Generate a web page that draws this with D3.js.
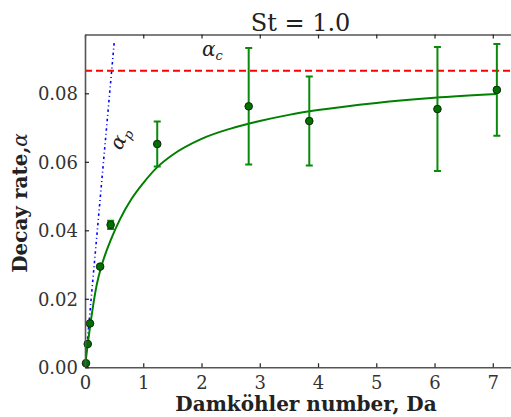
<!DOCTYPE html>
<html>
<head>
<meta charset="utf-8">
<script src="https://cdn.jsdelivr.net/npm/d3@7/dist/d3.min.js"></script>
<style>
  html, body { margin: 0; padding: 0; background: #fff; overflow: hidden; }
  svg { display: block; }
  text { font-family: "DejaVu Serif", "Liberation Serif", serif; }
</style>
</head>
<body>
<div id="chart"></div>
<script>
// Measured decay rates with their error bars
const daValues    = [0.017, 0.047, 0.086, 0.26, 0.44, 1.24, 2.81, 3.85, 6.05, 7.07];
const alphaValues = [0.0012, 0.0068, 0.0128, 0.0294, 0.0416, 0.0652, 0.0762, 0.0719, 0.0754, 0.0810];
const alphaErrors = [0, 0, 0, 0.0003, 0.0012, 0.0066, 0.0170, 0.0130, 0.0181, 0.0134];

// Fitted curve through the measurements
const fitDa    = [0, 0.02, 0.05, 0.1, 0.2, 0.3, 0.45, 0.6, 0.8, 1.0, 1.25, 1.5, 2.0, 2.5, 3.0, 3.5, 4.0, 5.0, 6.0, 7.07];
const fitAlpha = [0, 0.0030, 0.0072, 0.0135, 0.0240, 0.0305, 0.0375, 0.0432, 0.0492, 0.0538, 0.0586, 0.0620, 0.0667, 0.0697, 0.0719, 0.0737, 0.0751, 0.0772, 0.0787, 0.0798];

// Limiting rates: constant alpha_c and the linear alpha_p
const alphaC = 0.0866;
const pDa    = [0, 0.505];
const pAlpha = [0, 0.0955];

const xTicks = [0, 1, 2, 3, 4, 5, 6, 7];
const yTicks = [0.00, 0.02, 0.04, 0.06, 0.08];

const W = 511, H = 417;
const m = { left: 85, top: 34.5, right: 519, bottom: 367.3 };
const serif = '"DejaVu Serif", "Liberation Serif", serif';

const svg = d3.select("#chart").append("svg")
  .attr("width", W).attr("height", H);

const x = d3.scaleLinear().domain([0, 7.45]).range([m.left, m.right]);
const y = d3.scaleLinear().domain([0, 0.09717]).range([m.bottom, m.top]);

const axisColor = "#555";
const labelColor = "#222";

// Clip for the plotting area
svg.append("clipPath").attr("id", "plotclip")
  .append("rect").attr("x", m.left).attr("y", m.top)
  .attr("width", m.right - m.left).attr("height", m.bottom - m.top);

const plot = svg.append("g").attr("clip-path", "url(#plotclip)");

// alpha_c horizontal reference
plot.append("line")
  .attr("x1", x(0)).attr("x2", x(7.45))
  .attr("y1", y(alphaC)).attr("y2", y(alphaC))
  .attr("stroke", "#ff0000").attr("stroke-width", 2)
  .attr("stroke-dasharray", "7,4");

// alpha_p linear growth
plot.append("path")
  .datum(pDa.map((d, i) => [d, pAlpha[i]]))
  .attr("fill", "none")
  .attr("stroke", "#0000ff").attr("stroke-width", 1.6)
  .attr("stroke-dasharray", "2.5,3,1,3")
  .attr("d", d3.line().x(d => x(d[0])).y(d => y(d[1])));

// Fit curve
plot.append("path")
  .datum(fitDa.map((d, i) => [d, fitAlpha[i]]))
  .attr("fill", "none")
  .attr("stroke", "#008000").attr("stroke-width", 2)
  .attr("d", d3.line().curve(d3.curveMonotoneX).x(d => x(d[0])).y(d => y(d[1])));

// Error bars
const pts = daValues.map((d, i) => ({ da: d, a: alphaValues[i], e: alphaErrors[i] }));
const eb = plot.append("g").selectAll("g").data(pts.filter(p => p.e > 0)).join("g")
  .attr("stroke", "#0a8a0a").attr("stroke-width", 2);
eb.append("line")
  .attr("x1", p => x(p.da)).attr("x2", p => x(p.da))
  .attr("y1", p => y(p.a - p.e)).attr("y2", p => y(p.a + p.e));
eb.append("line")
  .attr("x1", p => x(p.da) - 3.5).attr("x2", p => x(p.da) + 3.5)
  .attr("y1", p => y(p.a + p.e)).attr("y2", p => y(p.a + p.e));
eb.append("line")
  .attr("x1", p => x(p.da) - 3.5).attr("x2", p => x(p.da) + 3.5)
  .attr("y1", p => y(p.a - p.e)).attr("y2", p => y(p.a - p.e));

// Markers
svg.append("g").selectAll("circle").data(pts).join("circle")
  .attr("cx", p => x(p.da)).attr("cy", p => y(p.a)).attr("r", 3.8)
  .attr("fill", "#007000").attr("stroke", "#0b2a0b").attr("stroke-width", 1);

// Axes: ticks pointing inward, mirrored on top
const axBottom = svg.append("g").attr("transform", `translate(0,${m.bottom})`)
  .call(d3.axisBottom(x).tickValues(xTicks).tickFormat(d3.format("d")).tickSizeInner(-4).tickSizeOuter(0).tickPadding(9));
const axTop = svg.append("g").attr("transform", `translate(0,${m.top})`)
  .call(d3.axisTop(x).tickValues(xTicks).tickFormat("").tickSizeInner(-4).tickSizeOuter(0));
const axLeft = svg.append("g").attr("transform", `translate(${m.left},0)`)
  .call(d3.axisLeft(y).tickValues(yTicks).tickFormat(d3.format(".2f")).tickSizeInner(-4).tickSizeOuter(0).tickPadding(7));

[axBottom, axTop, axLeft].forEach(g => {
  g.attr("font-family", serif);
  g.select(".domain").attr("stroke", axisColor).attr("stroke-width", 1.6);
  g.selectAll(".tick line").attr("stroke", "#222").attr("stroke-width", 1.2);
  g.selectAll(".tick text").attr("fill", "#333")
    .style("font-family", serif).style("font-size", "18px");
});
axLeft.selectAll(".tick text").attr("dy", "0.36em");

// Title
svg.append("text").attr("x", 300.5).attr("y", 31)
  .attr("text-anchor", "middle").attr("fill", labelColor)
  .style("font-family", serif).style("font-size", "24px").text("St = 1.0");

// Axis titles
svg.append("text").attr("x", 306).attr("y", 411)
  .attr("text-anchor", "middle").attr("fill", labelColor)
  .style("font-family", serif).style("font-size", "20px").style("font-weight", "bold")
  .text("Damköhler number, Da");

const yl = svg.append("text")
  .attr("transform", "translate(27,203) rotate(-90)")
  .attr("text-anchor", "middle").attr("fill", labelColor)
  .style("font-family", serif).style("font-size", "20px");
yl.append("tspan").style("font-weight", "bold").text("Decay rate,");
yl.append("tspan").style("font-style", "italic").text("α");

// Line annotations
const ac = svg.append("text").attr("x", 202).attr("y", 56).attr("fill", labelColor)
  .style("font-family", serif).style("font-size", "20px").style("font-style", "italic");
ac.append("tspan").text("α");
ac.append("tspan").attr("dy", 4).style("font-size", "13px").text("c");

const ap = svg.append("text")
  .attr("transform", "translate(121,151) rotate(-64)")
  .attr("fill", labelColor)
  .style("font-family", serif).style("font-size", "20px").style("font-style", "italic");
ap.append("tspan").text("α");
ap.append("tspan").attr("dy", 4).style("font-size", "13px").text("p");
</script>
</body>
</html>
